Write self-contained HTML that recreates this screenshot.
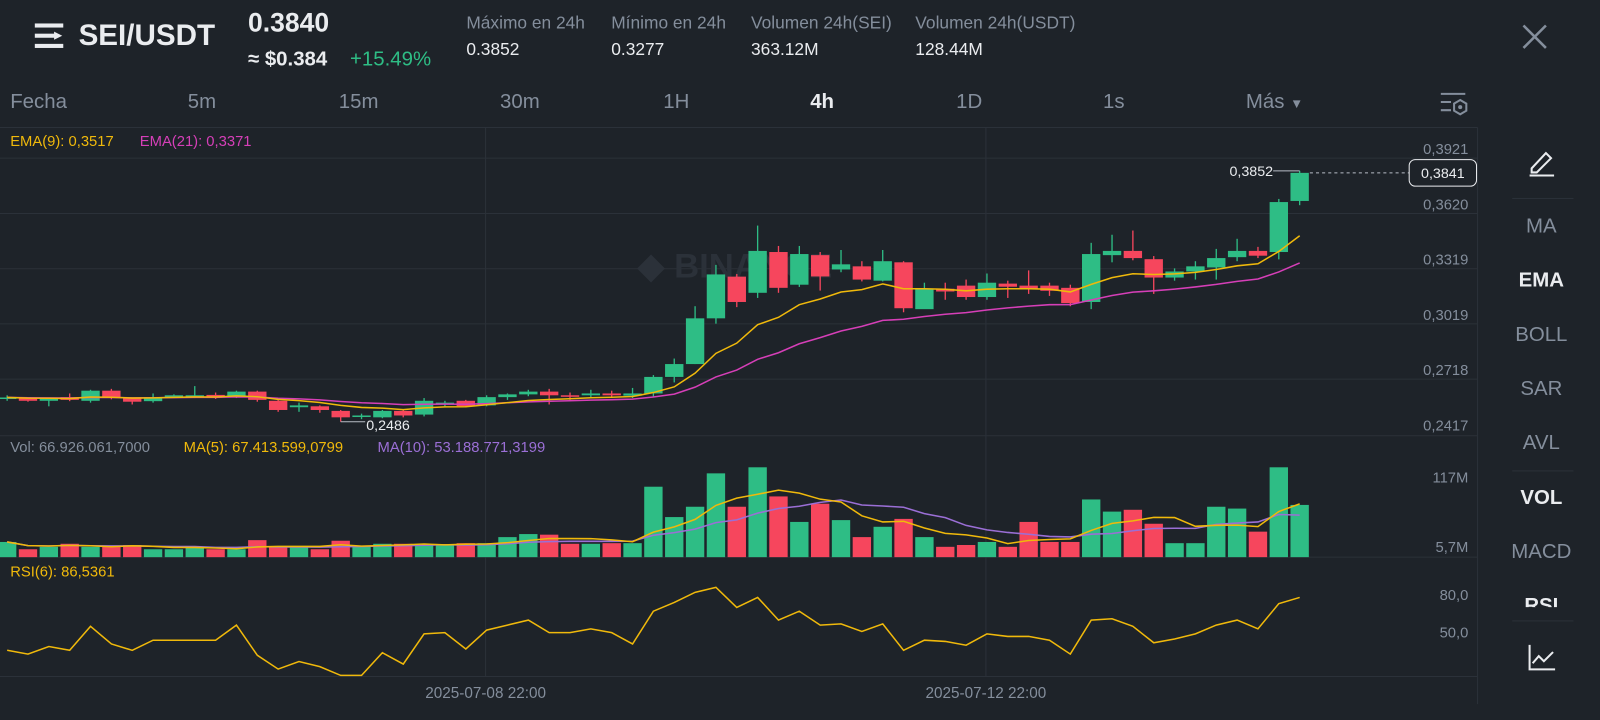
<!DOCTYPE html>
<html><head><meta charset="utf-8">
<style>
html,body{margin:0;padding:0;background:#1e2329;width:1600px;height:720px;overflow:hidden;font-family:"Liberation Sans",sans-serif;}
#root{position:absolute;left:0;top:0;width:1568px;height:706px;transform:scale(1.020408);transform-origin:0 0;}
.t{position:absolute;white-space:nowrap;}
</style></head>
<body>
<div id="root">
<div style="position:absolute;left:0;top:0;width:1568px;height:80px;">
  <svg style="position:absolute;left:34px;top:22px" width="30" height="26"><rect x="0" y="1" width="28" height="4" fill="#eaecef"/><rect x="0" y="11" width="20" height="4" fill="#eaecef"/><rect x="0" y="21" width="28" height="4" fill="#eaecef"/><path d="M19 9 L27 13 L19 17Z" fill="#eaecef"/></svg>
  <div class="t" style="left:77px;top:19px;font-size:29px;font-weight:bold;color:#eaecef">SEI/USDT</div>
  <div class="t" style="left:243px;top:7px;font-size:26px;font-weight:bold;color:#eaecef">0.3840</div>
  <div class="t" style="left:243px;top:47px;font-size:20px;font-weight:bold;color:#eaecef">≈ $0.384</div>
  <div class="t" style="left:343px;top:47px;font-size:20px;color:#2ebd85">+15.49%</div>
  <div class="t" style="left:457px;top:13px;font-size:17px;color:#848e9c">Máximo en 24h</div>
  <div class="t" style="left:457px;top:39px;font-size:17px;color:#eaecef">0.3852</div>
  <div class="t" style="left:599px;top:13px;font-size:17px;color:#848e9c">Mínimo en 24h</div>
  <div class="t" style="left:599px;top:39px;font-size:17px;color:#eaecef">0.3277</div>
  <div class="t" style="left:736px;top:13px;font-size:17px;color:#848e9c">Volumen 24h(SEI)</div>
  <div class="t" style="left:736px;top:39px;font-size:17px;color:#eaecef">363.12M</div>
  <div class="t" style="left:897px;top:13px;font-size:17px;color:#848e9c">Volumen 24h(USDT)</div>
  <div class="t" style="left:897px;top:39px;font-size:17px;color:#eaecef">128.44M</div>
  <svg style="position:absolute;left:1492px;top:24px" width="24" height="24"><path d="M1 1L23 23M23 1L1 23" stroke="#848e9c" stroke-width="2.5"/></svg>
</div>
<div style="position:absolute;left:0;top:88px;width:1448px;height:28px;font-size:20px;color:#848e9c">
  <div class="t" style="left:10px;top:1px">Fecha</div>
  <div class="t" style="left:184px;top:1px">5m</div>
  <div class="t" style="left:332px;top:1px">15m</div>
  <div class="t" style="left:490px;top:1px">30m</div>
  <div class="t" style="left:650px;top:1px">1H</div>
  <div class="t" style="left:794px;top:1px;color:#eaecef;font-weight:bold">4h</div>
  <div class="t" style="left:937px;top:1px">1D</div>
  <div class="t" style="left:1081px;top:1px">1s</div>
  <div class="t" style="left:1221px;top:1px">Más <span style="font-size:13px">▼</span></div>
  <svg style="position:absolute;left:1410px;top:1px" width="30" height="26"><path d="M2 3H26M2 11H12M2 19H12" stroke="#848e9c" stroke-width="2"/><path d="M21 9 L27 12.5 L27 19.5 L21 23 L15 19.5 L15 12.5Z" stroke="#848e9c" stroke-width="2" fill="none"/><circle cx="21" cy="16" r="2" fill="#848e9c"/></svg>
</div>
<div style="position:absolute;left:1449px;top:125px;width:119px;height:570px;font-size:20px;color:#848e9c;text-align:center">
  <svg style="position:absolute;left:48px;top:20px" width="28" height="28"><path d="M4 20 L18 5 L23 10 L9 24 L4 24Z" stroke="#eaecef" stroke-width="2" fill="none"/><path d="M2 27H26" stroke="#eaecef" stroke-width="2"/></svg>
  <div style="position:absolute;left:33px;top:69px;width:60px;height:1px;background:#2b3139"></div>
  <div class="t" style="left:0;width:123px;top:86px">MA</div>
  <div class="t" style="left:0;width:123px;top:139px;color:#eaecef;font-weight:bold">EMA</div>
  <div class="t" style="left:0;width:123px;top:192px">BOLL</div>
  <div class="t" style="left:0;width:123px;top:245px">SAR</div>
  <div class="t" style="left:0;width:123px;top:298px">AVL</div>
  <div style="position:absolute;left:33px;top:336px;width:60px;height:1px;background:#2b3139"></div>
  <div class="t" style="left:0;width:123px;top:352px;color:#eaecef;font-weight:bold">VOL</div>
  <div class="t" style="left:0;width:123px;top:405px">MACD</div>
  <div style="position:absolute;left:0;width:123px;top:458px;height:12px;overflow:hidden;color:#eaecef;font-weight:bold">RSI</div>
  <div style="position:absolute;left:33px;top:483px;width:60px;height:1px;background:#2b3139"></div>
  <svg style="position:absolute;left:48px;top:505px" width="28" height="28"><path d="M2 2V26H27" stroke="#eaecef" stroke-width="2" fill="none"/><path d="M5 20L11 13L16 18L25 9" stroke="#eaecef" stroke-width="2" fill="none"/></svg>
</div>
<svg id="chart" style="position:absolute;left:0;top:0" width="1568" height="706"></svg>
</div>
<script>
const opens  = [.2610,.2615,.2600,.2620,.2600,.2655,.2615,.2598,.2618,.2620,.2632,.2620,.2650,.2600,.2565,.2570,.2545,.2515,.2510,.2545,.2525,.2585,.2600,.2575,.2620,.2635,.2650,.2630,.2630,.2640,.2628,.2640,.2730,.2800,.3049,.3276,.3188,.3410,.3232,.3393,.3315,.3332,.3254,.3354,.3099,.3210,.3227,.3165,.3238,.3227,.3227,.3215,.3138,.3393,.3416,.3371,.3271,.3304,.3326,.3382,.3416,.3410,.3688];
const closes = [.2618,.2600,.2612,.2605,.2655,.2615,.2595,.2620,.2630,.2630,.2620,.2650,.2605,.2550,.2575,.2550,.2510,.2520,.2545,.2520,.2600,.2590,.2570,.2620,.2635,.2650,.2630,.2625,.2640,.2630,.2640,.2730,.2800,.3049,.3288,.3138,.3416,.3215,.3399,.3277,.3343,.3260,.3360,.3104,.3210,.3195,.3165,.3243,.3221,.3210,.3199,.3132,.3399,.3416,.3377,.3271,.3304,.3332,.3377,.3416,.3390,.3682,.3841];
const highs  = [.2630,.2620,.2618,.2640,.2660,.2665,.2618,.2640,.2635,.2680,.2645,.2655,.2655,.2605,.2590,.2575,.2550,.2530,.2550,.2550,.2615,.2600,.2605,.2630,.2640,.2660,.2665,.2645,.2660,.2655,.2670,.2740,.2830,.3115,.3340,.3290,.3554,.3443,.3443,.3410,.3421,.3360,.3421,.3360,.3243,.3243,.3260,.3293,.3254,.3310,.3243,.3232,.3460,.3504,.3527,.3388,.3321,.3360,.3427,.3482,.3438,.3699,.3852];
const lows   = [.2600,.2595,.2570,.2598,.2590,.2608,.2580,.2590,.2615,.2615,.2610,.2615,.2595,.2540,.2540,.2535,.2486,.2500,.2505,.2510,.2515,.2570,.2565,.2570,.2605,.2625,.2580,.2605,.2615,.2620,.2615,.2620,.2700,.2800,.3020,.3110,.3160,.3188,.3220,.3200,.3300,.3250,.3250,.3082,.3190,.3150,.3150,.3150,.3160,.3182,.3171,.3115,.3099,.3354,.3365,.3182,.3254,.3260,.3260,.3360,.3377,.3370,.3665];
const volumes= [25,13,17,22,17,17,20,13,13,17,13,13,28,17,17,13,27,17,22,22,20,20,23,23,33,38,37,22,22,23,23,116,66,83,138,83,148,100,58,88,61,33,50,63,33,17,20,25,17,58,25,25,95,75,78,55,23,23,83,80,42,148,86];
const rsiValues = [36,33,39,36,55,41,36,44,44,44,44,56,32,21,27,23,16,16,34,25,49,50,37,52,56,60,50,50,53,50,41,67,74,82,86,70,78,60,67,56,57,51,57,36,44,43,40,49,47,47,44,33,60,61,55,42,45,49,56,60,53,73,78];
const priceTicks = [0.3921,0.3620,0.3319,0.3019,0.2718,0.2417];
const rsiTicks = [80,50];
const dateLabels = ["2025-07-08 22:00","2025-07-12 22:00"];
const dateIndex = [23,47];

const svg=document.getElementById('chart');
const NS='http://www.w3.org/2000/svg';
function mk(tag,attrs,parent){const e=document.createElementNS(NS,tag);for(const k in attrs)e.setAttribute(k,attrs[k]);(parent||svg).appendChild(e);return e;}
const GREEN='#2ebd85',RED='#f6465d',GRID='#2b3139',AX='#848e9c';
const N=closes.length;
const xOf=i=>7+i*20.43;
const yP=p=>155+(0.3921-p)*1800;
const yV=v=>546-v*0.595;
const yR=r=>583-(r-80)*1.233;

[[125,1448],[427,1448],[546,1448],[663,1448]].forEach(([y,w])=>{
  const l=mk('line',{x1:0,x2:w,y1:y,y2:y,stroke:GRID,'stroke-width':1});
  
  
});
const vs=mk('line',{x1:1448,x2:1448,y1:125,y2:690,stroke:GRID});


priceTicks.forEach((p,k)=>{
  const y=yP(p);
  if(k>0&&k<priceTicks.length-1){const g=mk('line',{x1:0,x2:1448,y1:y,y2:y,stroke:GRID});
  
  }
  const t=mk('text',{x:1439,y:y-4,'text-anchor':'end','font-size':14.5,fill:AX});
  t.textContent=p.toFixed(4).replace('.',',');
  
  
});
mk('line',{x1:0,x2:1448,y1:155,y2:155,stroke:GRID});
dateIndex.forEach((di,k)=>{
  const x=xOf(di)-1;
  const g=mk('line',{x1:x,x2:x,y1:125,y2:663,stroke:GRID});
  
  
  const t=mk('text',{x:x,y:684,'text-anchor':'middle','font-size':15,fill:AX});
  t.textContent=dateLabels[k];
  
  
});
const wm=mk('text',{x:625,y:272,'font-size':34,'font-weight':'bold',fill:'#2b3139'});
wm.textContent='◆ BINANCE';



for(let i=0;i<N;i++){
  const up=closes[i]>=opens[i];const c=up?GREEN:RED;const x=xOf(i);
  const w=mk('line',{x1:x,x2:x,y1:yP(highs[i]),y2:yP(lows[i]),stroke:c,'stroke-width':1.3});
  
  
  const top=yP(Math.max(opens[i],closes[i])),bot=yP(Math.min(opens[i],closes[i]));
  const b=mk('rect',{x:x-9,y:top,width:18,height:Math.max(1.5,bot-top),fill:c});
  
  
  const v=mk('rect',{x:x-9,y:yV(volumes[i]),width:18,height:546-yV(volumes[i]),fill:c});
  
  
}
function ema(arr,n){const k=2/(n+1);let e=arr[0];return arr.map(v=>e=v*k+e*(1-k));}
function sma(arr,n){return arr.map((v,i)=>{const s=arr.slice(Math.max(0,i-n+1),i+1);return s.reduce((a,b)=>a+b,0)/s.length;});}
function line(vals,yf,color,name){
  const d=vals.map((v,i)=>(i?'L':'M')+xOf(i).toFixed(1)+' '+yf(v).toFixed(1)).join(' ');
  const p=mk('path',{d,stroke:color,'stroke-width':1.5,fill:'none'});
  
  
}
line(ema(closes,21),yP,'#d63fb8','ema21-line');
line(ema(closes,9),yP,'#f0b90b','ema9-line');
line(sma(volumes,10),yV,'#9b6fd6','vol-ma10-line');
line(sma(volumes,5),yV,'#f0b90b','vol-ma5-line');
line(rsiValues,yR,'#f0b90b','rsi-line');
rsiTicks.forEach(r=>{const t=mk('text',{x:1439,y:yR(r)+5,'text-anchor':'end','font-size':14.5,fill:AX});t.textContent=r.toFixed(1).replace('.',',');
  
  });
[['117M',473],['5,7M',541]].forEach(([s,y])=>{const t=mk('text',{x:1439,y:y,'text-anchor':'end','font-size':14.5,fill:AX});t.textContent=s;
  
  });
const hi=highs.indexOf(Math.max(...highs)),lo=lows.indexOf(Math.min(...lows));
mk('line',{x1:xOf(hi)-26,x2:xOf(hi),y1:yP(highs[hi]),y2:yP(highs[hi]),stroke:'#b7bdc6'});
const ht=mk('text',{x:xOf(hi)-26,y:yP(highs[hi])+5,'text-anchor':'end','font-size':14,fill:'#eaecef'});
ht.textContent=highs[hi].toFixed(4).replace('.',',');


mk('line',{x1:xOf(lo),x2:xOf(lo)+24,y1:yP(lows[lo]),y2:yP(lows[lo]),stroke:'#b7bdc6'});
const lt=mk('text',{x:xOf(lo)+25,y:yP(lows[lo])+8,'font-size':14,fill:'#eaecef'});
lt.textContent=lows[lo].toFixed(4).replace('.',',');


const lp=yP(closes[N-1]);
mk('line',{x1:xOf(N-1)+10,x2:1381,y1:lp,y2:lp,stroke:'#b7bdc6','stroke-dasharray':'3 3'});
const lb=mk('rect',{x:1381,y:lp-13,width:66,height:26,rx:6,fill:'#1e2329',stroke:'#eaecef'});


const lpt=mk('text',{x:1414,y:lp+5,'text-anchor':'middle','font-size':14,fill:'#eaecef'});
lpt.textContent=closes[N-1].toFixed(4).replace('.',',');
function legend(x,y,txt,color,name){const t=mk('text',{x,y,'font-size':14.5,fill:color});t.textContent=txt;
  
  }
legend(10,143,'EMA(9): 0,3517','#f0b90b','ema9-legend');
legend(137,143,'EMA(21): 0,3371','#d63fb8','ema21-legend');
legend(10,443,'Vol: 66.926.061,7000',AX,'vol-legend');
legend(180,443,'MA(5): 67.413.599,0799','#f0b90b','vol-ma5-legend');
legend(370,443,'MA(10): 53.188.771,3199','#9b6fd6','vol-ma10-legend');
legend(10,565,'RSI(6): 86,5361','#f0b90b','rsi-legend');
</script>
</body></html>
